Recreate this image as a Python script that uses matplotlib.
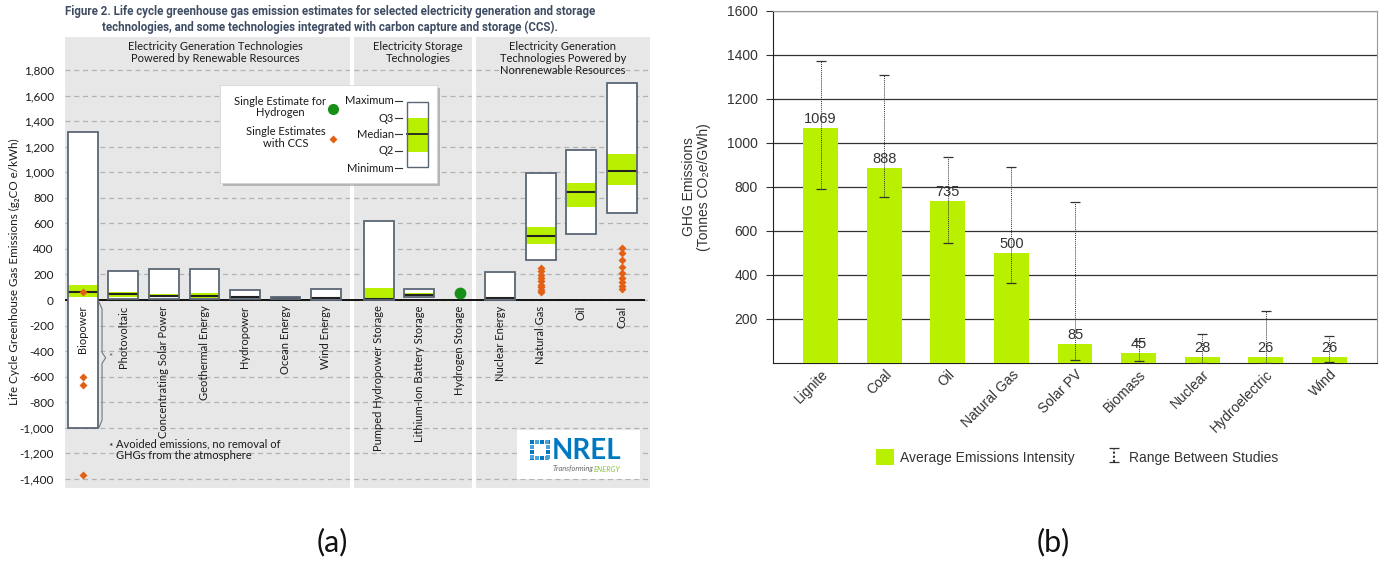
import numpy as np
import matplotlib.pyplot as plt
from matplotlib.patches import Rectangle
from matplotlib.collections import LineCollection
from matplotlib.ticker import FuncFormatter

plt.rcParams['font.family'] = ['Lato', 'DejaVu Sans']

GREEN = '#b8f000'
EDGE = '#5b6775'
TXT = '#1a1a1a'

# --- (a) life cycle GHG estimates, g CO2e/kWh ---
tech_a = ["Biopower", "Photovoltaic", "Concentrating Solar Power", "Geothermal Energy",
          "Hydropower", "Ocean Energy", "Wind Energy",
          "Pumped Hydropower Storage", "Lithium-Ion Battery Storage", "Hydrogen Storage",
          "Nuclear Energy", "Natural Gas", "Oil", "Coal"]
group_sizes = [7, 3, 4]
group_titles = ["Electricity Generation Technologies\nPowered by Renewable Resources",
                "Electricity Storage\nTechnologies",
                "Electricity Generation\nTechnologies Powered by\nNonrenewable Resources"]
nan = np.nan
box_min = [-1000, 10, 10, 9, 5, 4, 3, 2, 21, nan, 1, 313, 514, 683]
box_q1 = [26, 26, 21, 16, 16, 8, 10, 3, 30, nan, 6, 441, 730, 903]
box_med = [60, 45, 31, 34, 23, 12, 16, 9, 38, nan, 13, 498, 848, 1010]
box_q3 = [117, 60, 45, 52, 31, 17, 23, 94, 52, nan, 26, 571, 915, 1143]
box_max = [1312, 224, 243, 245, 78, 25, 86, 616, 83, nan, 222, 994, 1176, 1701]
hydrogen_single = 57
ccs_biopower = [62, -600, -665, -1370]
ccs_gas = [253, 225, 195, 170, 145, 120, 100, 80, 60]
ccs_coal = [410, 365, 310, 260, 215, 175, 140, 110, 90]
yticks_a = list(range(-1400, 1801, 200))

# --- (b) average emissions intensity, tonnes CO2e/GWh ---
tech_b = ["Lignite", "Coal", "Oil", "Natural Gas", "Solar PV", "Biomass",
          "Nuclear", "Hydroelectric", "Wind"]
avg_b = [1069, 888, 735, 500, 85, 45, 28, 26, 26]
low_b = [790, 756, 547, 362, 13, 10, 2, 2, 6]
high_b = [1372, 1310, 935, 891, 731, 101, 130, 237, 124]

W, H = 1381, 564
fig = plt.figure(figsize=(W / 100, H / 100), dpi=100)

# x positions with a small gap after the first group
pos = []
x = 0.0
first_of_group = []
for g, n in enumerate(group_sizes):
    if g == 1:
        x += 0.3
    first_of_group.append(x)
    for i in range(n):
        pos.append(x)
        x += 1
pos = np.array(pos)

ax = fig.add_axes([65 / W, 1 - 488 / H, 585 / W, 451 / H])
ax.set_facecolor('#e7e7e7')
ax.set_xlim(-0.444, 14.0)
ax.set_ylim(-1471, 2058)
for s in ax.spines.values():
    s.set_visible(False)
ax.set_yticks(yticks_a)
ax.yaxis.set_major_formatter(FuncFormatter(lambda v, p: f"{v:,.0f}"))
ax.tick_params(axis='y', length=0, pad=8, labelsize=8.5, labelcolor=TXT)
ax.set_xticks([])
ax.grid(axis='y', color='#b2b2b2', lw=0.9, ls=(0, (4, 3)))
ax.set_axisbelow(True)
for f in first_of_group[1:]:
    ax.axvspan(f - 0.7, f - 0.6, color='white', lw=0, zorder=0.8)
ax.axhline(0, xmax=0.99, color='#111111', lw=1.4, zorder=3)

bw = 0.74
for i, p in enumerate(pos):
    if np.isnan(box_min[i]):
        continue
    ax.bar(p, box_max[i] - box_min[i], bottom=box_min[i], width=bw,
           color='white', lw=0, zorder=4)
    ax.bar(p, box_q3[i] - box_q1[i], bottom=box_q1[i], width=bw,
           color=GREEN, lw=0, zorder=5)
    ax.hlines(box_med[i], p - bw / 2, p + bw / 2, color='#222222', lw=1.5, zorder=6)
    ax.bar(p, box_max[i] - box_min[i], bottom=box_min[i], width=bw,
           fill=False, edgecolor=EDGE, lw=1.3, zorder=7)

for i, p in enumerate(pos):
    ax.annotate(tech_a[i], (p, 0), xytext=(0, -4), textcoords='offset points',
                rotation=90, ha='center', va='top', fontsize=8, color=TXT, zorder=9)

ax.plot([pos[0]] * len(ccs_biopower), ccs_biopower, 'D', color='#e35f14', ms=4, mec='none', zorder=8)
ax.plot([pos[11]] * len(ccs_gas), ccs_gas, 'D', color='#e35f14', ms=4, mec='none', zorder=8)
ax.plot([pos[13]] * len(ccs_coal), ccs_coal, 'D', color='#e35f14', ms=4, mec='none', zorder=8)
ax.plot(pos[9], hydrogen_single, 'o', color='#178f17', ms=8.5, mec='none', zorder=8)

# brace beside the negative part of biopower
ax.plot([0.40, 0.47, 0.47, 0.56, 0.47, 0.47, 0.40],
        [-20, -70, -410, -453, -496, -940, -995], color='#777777', lw=0.8, zorder=8)
ax.text(0.62, -453, "*", fontsize=7, color='#555555', va='center', zorder=8)

ax.set_ylabel("Life Cycle Greenhouse Gas Emissions (g\u2082CO e/kWh)", fontsize=8.4, color=TXT)
ax.yaxis.set_label_coords(-0.077, 0.479)

# --- (b) ---
axb = fig.add_axes([773 / W, 1 - 363 / H, 604 / W, 352 / H])
xb = np.arange(len(tech_b))
avg = np.array(avg_b)
bars = axb.bar(xb, avg, width=0.55, color=GREEN, zorder=3, label='Average Emissions Intensity')
err = axb.errorbar(xb, avg, yerr=[avg - np.array(low_b), np.array(high_b) - avg], fmt='none',
                   ecolor='#333333', elinewidth=0.7, capsize=3.5, capthick=0.9, zorder=4,
                   label='Range Between Studies')
err[2][0].set_linestyle((0, (1, 1)))
for xi, v in zip(xb, avg_b):
    axb.annotate(str(v), (xi, v), xytext=(0, 1.5), textcoords='offset points', ha='center',
                 va='bottom', fontsize=10.5, color='#333333', family='Liberation Sans', zorder=5)
axb.set_xlim(-0.75, 8.75)
axb.set_ylim(0, 1600)
axb.set_yticks(range(200, 1601, 200))
axb.grid(axis='y', color='#333333', lw=0.9, zorder=1)
axb.set_axisbelow(True)
axb.spines['left'].set_color('#222222')
axb.spines['bottom'].set_color('#222222')
axb.spines['right'].set_color('#999999')
axb.spines['top'].set_color('#999999')
axb.set_xticks(xb)
axb.set_xticklabels(tech_b, rotation=45, ha='right', rotation_mode='anchor',
                    fontsize=10, color='#333333', family='Liberation Sans')
axb.tick_params(axis='x', length=0, pad=3)
axb.tick_params(axis='y', length=5, pad=6, labelsize=10, labelcolor='#333333', color='#333333')
for t in axb.get_yticklabels():
    t.set_family('Liberation Sans')
axb.set_ylabel("GHG Emissions\n(Tonnes CO\u2082e/GWh)", fontsize=10, color='#333333',
               family=['Liberation Sans', 'DejaVu Sans'], linespacing=1.15, labelpad=11)
leg = fig.legend(handles=[bars, err], loc='center', bbox_to_anchor=(1077 / W, 1 - 457 / H), ncol=2,
                 frameon=False, handlelength=1.25, handleheight=1.35, handletextpad=0.45,
                 columnspacing=2.2, prop={'family': 'Liberation Sans', 'size': 10},
                 labelcolor='#333333')
for c in leg.findobj(LineCollection):
    c.set_linestyle((0, (1, 1)))

# --- overlay for titles, key, logo and notes ---
ov = fig.add_axes([0, 0, 1, 1], zorder=10)
ov.set_xlim(0, W)
ov.set_ylim(H, 0)
ov.axis('off')

ov.text(330, 5, "Figure 2. Life cycle greenhouse gas emission estimates for selected electricity generation and storage\n"
        "technologies, and some technologies integrated with carbon capture and storage (CCS).",
        ha='center', va='top', fontsize=8.3, fontweight='bold', color='#3e4c63',
        family=['Liberation Sans Narrow', 'Roboto'], linespacing=1.25)

for cx, t in zip([215, 418, 563], group_titles):
    ov.text(cx, 41, t, ha='center', va='top', fontsize=8, color=TXT, linespacing=1.1)

# key box
ov.add_patch(Rectangle((223, 88), 217, 98, color='#8c8c8c', alpha=0.55, lw=0, zorder=1))
ov.add_patch(Rectangle((220, 85), 217, 98, fc='white', ec='#d0d0d0', lw=0.5, zorder=2))
ov.text(326, 107, "Single Estimate for\nHydrogen", ha='right', va='center', fontsize=8,
        color=TXT, linespacing=1.1, multialignment='center', zorder=3)
ov.text(326, 137.5, "Single Estimates\nwith CCS", ha='right', va='center', fontsize=8,
        color=TXT, linespacing=1.1, multialignment='center', zorder=3)
ov.plot(333, 109, 'o', color='#178f17', ms=8, mec='none', zorder=3)
ov.plot(333, 139, 'D', color='#e35f14', ms=4, mec='none', zorder=3)
for lab, y in zip(["Maximum", "Q3", "Median", "Q2", "Minimum"], [101, 118, 134, 151, 168]):
    ov.text(394, y, lab, ha='right', va='center', fontsize=8, color=TXT, zorder=3)
    ov.plot([395, 402], [y, y], color='#333333', lw=0.8, zorder=3)
ov.add_patch(Rectangle((407, 102), 21, 65, fc='white', lw=0, zorder=3))
ov.add_patch(Rectangle((407, 118), 21, 34, fc=GREEN, lw=0, zorder=3.5))
ov.plot([407, 428], [134, 134], color='#222222', lw=1.3, zorder=4)
ov.add_patch(Rectangle((407, 102), 21, 65, fill=False, ec=EDGE, lw=1.0, zorder=4.5))

# footnote
ov.text(108, 447, "*", fontsize=7.5, color=TXT, va='center')
ov.text(116, 450, "Avoided emissions, no removal of\nGHGs from the atmosphere", fontsize=8,
        color=TXT, va='center', linespacing=1.1)

# NREL logo
ov.add_patch(Rectangle((517, 430), 123, 49, fc='white', lw=0, zorder=2))
for k in range(4):
    for sx, sy in [(530 + 5 * k, 440), (530 + 5 * k, 456), (530, 440 + 5 * k), (546, 440 + 5 * k)]:
        shade = '#0079c1' if (k % 2 == 0) else '#4aa3df'
        ov.add_patch(Rectangle((sx, sy), 4, 4, fc=shade, lw=0, zorder=3))
ov.text(552, 451, "NREL", fontsize=20, fontweight='bold', color='#0079c1', va='center',
        ha='left', zorder=3)
ov.text(593, 469, "Transforming", fontsize=5.3, style='italic', color='#666666', ha='right',
        va='center', zorder=3)
ov.text(594, 469, "ENERGY", fontsize=5.3, style='italic', color='#8cc63f', ha='left',
        va='center', zorder=3)

ov.text(332, 542, "(a)", fontsize=22, fontweight='normal', color='#111111', ha='center', va='center')
ov.text(1053, 542, "(b)", fontsize=22, fontweight='normal', color='#111111', ha='center', va='center')

fig.savefig('out.png', dpi=100)
